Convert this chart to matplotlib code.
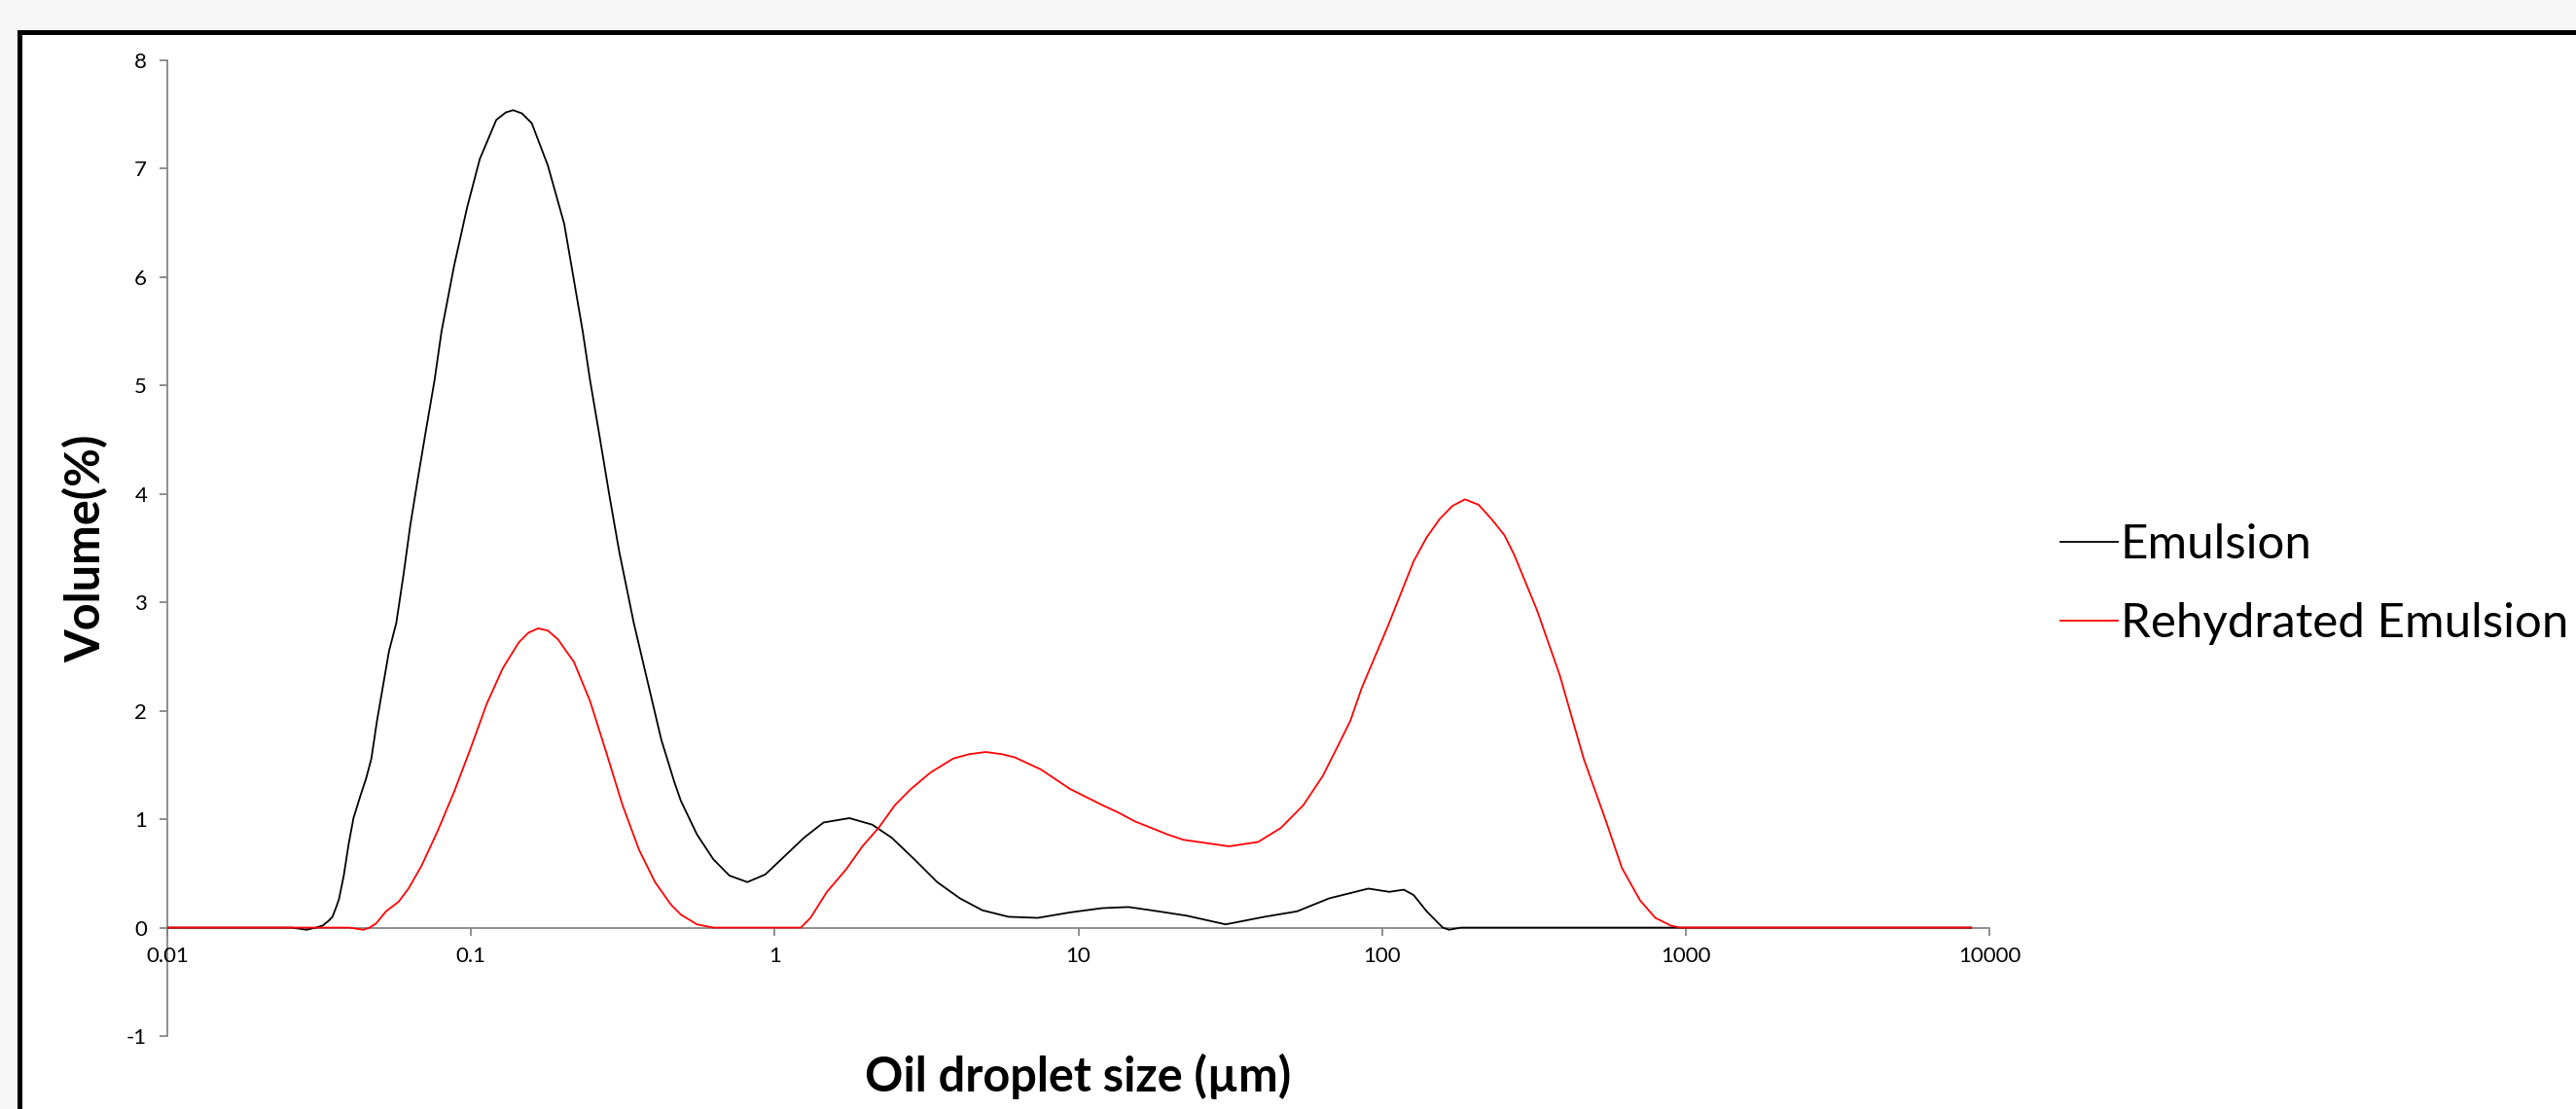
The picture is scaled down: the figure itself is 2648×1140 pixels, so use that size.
import matplotlib
matplotlib.use("Agg")
import matplotlib.pyplot as plt
from matplotlib.patches import Rectangle

# Droplet size classes (µm) and volume (%) for each sample
emulsion_size = [0.01, 0.01995, 0.02570, 0.02871, 0.03090, 0.03251, 0.03388, 0.03499,
                 0.03589, 0.03673, 0.03811, 0.03954, 0.04102, 0.04305, 0.04519, 0.04699,
                 0.04898, 0.05117, 0.05370, 0.05675, 0.05998, 0.06310, 0.06699, 0.07129,
                 0.07586, 0.07998, 0.08790, 0.09705, 0.1069, 0.1211, 0.1303, 0.1377,
                 0.1472, 0.1585, 0.1791, 0.2028, 0.2333, 0.2466, 0.2655, 0.2858, 0.3076,
                 0.3436, 0.3837, 0.4236, 0.4677, 0.4909, 0.5546, 0.6281, 0.7096, 0.8128,
                 0.9311, 1.079, 1.250, 1.449, 1.762, 2.094, 2.427, 2.884, 3.428, 4.074,
                 4.831, 5.888, 7.345, 9.376, 11.99, 14.62, 17.38, 22.75, 30.55, 41.02,
                 52.48, 66.99, 90.16, 105.7, 118.0, 127.1, 140.3, 158.5, 166.3, 182.0,
                 1000.0, 8710.0]
emulsion_vol = [0.00, 0.00, 0.00, -0.02, 0.00, 0.02, 0.06, 0.10,
                0.18, 0.26, 0.48, 0.77, 1.01, 1.20, 1.38, 1.56,
                1.90, 2.21, 2.55, 2.81, 3.26, 3.71, 4.16, 4.61,
                5.05, 5.50, 6.10, 6.64, 7.09, 7.45, 7.52, 7.54,
                7.51, 7.42, 7.03, 6.49, 5.50, 5.05, 4.52, 3.98, 3.47,
                2.81, 2.24, 1.73, 1.34, 1.17, 0.86, 0.63, 0.48, 0.42,
                0.49, 0.66, 0.83, 0.97, 1.01, 0.95, 0.83, 0.63, 0.42, 0.27,
                0.16, 0.10, 0.09, 0.14, 0.18, 0.19, 0.16, 0.11, 0.03, 0.10,
                0.15, 0.27, 0.36, 0.33, 0.35, 0.30, 0.15, 0.00, -0.02, 0.00,
                0.00, 0.00]

rehydrated_size = [0.01, 0.03981, 0.04416, 0.04634, 0.04875, 0.05248, 0.05781, 0.06223,
                   0.06871, 0.07762, 0.08790, 0.09931, 0.1125, 0.1271, 0.1436, 0.1545,
                   0.1663, 0.1791, 0.1932, 0.2183, 0.2466, 0.2793, 0.3155, 0.3573, 0.4036,
                   0.4560, 0.4909, 0.5546, 0.6281, 1.219, 1.312, 1.486, 1.722, 1.945,
                   2.198, 2.489, 2.812, 3.258, 3.873, 4.375, 4.955, 5.598, 6.180, 7.516,
                   9.376, 11.99, 13.58, 15.35, 17.38, 19.63, 22.18, 31.33, 39.08, 46.45,
                   55.08, 63.83, 67.92, 72.28, 78.70, 85.70, 104.5, 127.1, 140.3, 154.9,
                   170.6, 187.5, 208.0, 229.1, 252.9, 272.3, 323.6, 384.6, 424.6, 462.4,
                   542.0, 616.6, 707.9, 794.3, 891.3, 955.0, 8710.0]
rehydrated_vol = [0.00, 0.00, -0.02, 0.00, 0.04, 0.15, 0.24, 0.36,
                  0.57, 0.89, 1.25, 1.64, 2.06, 2.39, 2.63, 2.72,
                  2.76, 2.74, 2.66, 2.45, 2.09, 1.61, 1.13, 0.72, 0.42,
                  0.21, 0.12, 0.03, 0.00, 0.00, 0.09, 0.33, 0.54, 0.75,
                  0.92, 1.13, 1.28, 1.43, 1.56, 1.60, 1.62, 1.60, 1.57, 1.46,
                  1.28, 1.13, 1.06, 0.98, 0.92, 0.86, 0.81, 0.75, 0.79, 0.92,
                  1.13, 1.40, 1.55, 1.70, 1.91, 2.21, 2.78, 3.38, 3.60, 3.77,
                  3.89, 3.95, 3.90, 3.77, 3.62, 3.44, 2.93, 2.33, 1.91, 1.55,
                  1.01, 0.55, 0.25, 0.09, 0.02, 0.00, 0.00]

x_ticks = [0.01, 0.1, 1, 10, 100, 1000, 10000]
x_tick_labels = ["0.01", "0.1", "1", "10", "100", "1000", "10000"]
y_ticks = [-1, 0, 1, 2, 3, 4, 5, 6, 7, 8]

W, H = 2648, 1140
DPI = 100
plt.rcParams["font.family"] = ["Lato", "DejaVu Sans"]
plt.rcParams["axes.unicode_minus"] = False

fig = plt.figure(figsize=(W / DPI, H / DPI), dpi=DPI, facecolor="#f7f7f7")

# white chart panel with a heavy black frame running off the right and bottom edges
panel = Rectangle((19.5 / W, -0.2), 1.3, (H - 32.5) / H + 0.2,
                  transform=fig.transFigure, facecolor="white",
                  edgecolor="black", linewidth=5 * 72 / DPI, zorder=-5)
fig.patches.append(panel)

ax = fig.add_axes([172 / W, 1 - 1065 / H, (2045 - 172) / W, (1065 - 62) / H])
ax.set_facecolor("none")

ax.plot(emulsion_size, emulsion_vol, color="black", lw=1.3, label="Emulsion",
        solid_joinstyle="round")
ax.plot(rehydrated_size, rehydrated_vol, color="#ff0000", lw=1.3,
        label="Rehydrated Emulsion", solid_joinstyle="round")

ax.set_xscale("log")
ax.set_xlim(0.01, 10000)
ax.set_ylim(-1, 8)
ax.set_xticks(x_ticks, x_tick_labels)
ax.xaxis.set_minor_locator(matplotlib.ticker.NullLocator())
ax.set_yticks(y_ticks)

axis_grey = "#868686"
for side in ("top", "right"):
    ax.spines[side].set_visible(False)
ax.spines["bottom"].set_position(("data", 0))
for side in ("left", "bottom"):
    ax.spines[side].set_color(axis_grey)
    ax.spines[side].set_linewidth(1.3)
    ax.spines[side].set_zorder(0.5)
ax.tick_params(axis="both", direction="out", length=6, width=1.3,
               color=axis_grey, labelsize=16, labelcolor="black")
ax.tick_params(axis="x", pad=8)
ax.tick_params(axis="y", pad=9)

ax.set_xlabel("Oil droplet size (µm)", fontsize=35, fontweight="bold")
ax.xaxis.set_label_coords(0.5, -0.041)
ax.xaxis.label.set_va("center")
ax.set_ylabel("Volume(%)", fontsize=35, fontweight="bold")
ax.yaxis.set_label_coords(-0.0449, 0.5)
ax.yaxis.label.set_va("center")

fig.legend(loc="center left", bbox_to_anchor=(2118 / W, 1 - 600.5 / H),
           frameon=False, fontsize=35.5, handlelength=1.19, handletextpad=0.06,
           borderpad=0, borderaxespad=0, labelspacing=0.75)

fig.savefig("out.png", dpi=DPI, facecolor=fig.get_facecolor())
